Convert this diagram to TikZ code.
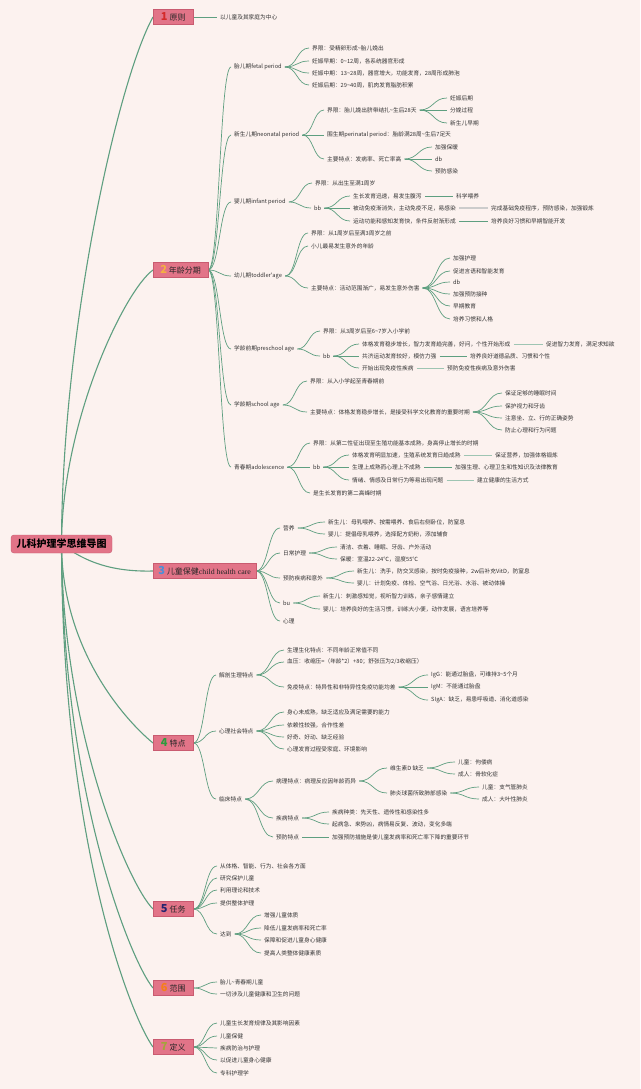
\documentclass[tikz,border=0pt]{standalone}
\usepackage{fontspec}
\setmainfont{Noto Sans CJK SC}[Ligatures=TeXOff]
\newfontfamily\latserif{Liberation Serif}
\usetikzlibrary{calc}
\pgfdeclarelayer{back}
\pgfdeclarelayer{links}
\pgfsetlayers{back,links,main}
\definecolor{bgc}{HTML}{FCF2EF}
\definecolor{linkc}{HTML}{5E9F80}
\definecolor{boxc}{HTML}{E27488}
\definecolor{boxd}{HTML}{C95B70}
\definecolor{txtc}{HTML}{333333}
\definecolor{n1c}{HTML}{D42A2A}
\definecolor{n2c}{HTML}{F5B041}
\definecolor{n3c}{HTML}{4A90D9}
\definecolor{n4c}{HTML}{2E9B3E}
\definecolor{n5c}{HTML}{24246E}
\definecolor{n6c}{HTML}{F57F17}
\definecolor{n7c}{HTML}{A3A53A}
\newcommand\tld{\textasciitilde}
\tikzset{
 leaf/.style={anchor=west, inner xsep=3pt, inner ysep=1pt, font=\fontsize{5.7}{6.5}\selectfont, text=txtc},
 mainbox/.style={anchor=west, fill=boxc, draw=boxd, line width=0.5pt, minimum height=15pt, minimum width=40pt, inner xsep=7pt, inner ysep=0pt, font=\fontsize{8}{8}\selectfont, text=black!85},
 rootbox/.style={fill=boxc, draw=boxd, rounded corners=3pt, minimum width=101pt, minimum height=18pt, font=\fontsize{10}{10}\selectfont\bfseries},
 link/.style={draw=linkc, line width=0.7pt},
 rlink/.style={draw=linkc, line width=1.1pt},
 glink/.style={draw=gray!40, line width=1.4pt},
 llink/.style={draw=linkc!60, line width=1pt},
}
\newcommand\tx[4]{\node[leaf] (#1) at ({#2-3},#3) {#4};}
\newcommand\cn[3][link]{\draw[#1] let \p1=(#2.east), \p2=(#3.west) in (\p1) .. controls ({(\x1+\x2)/2},\y1) and ({(\x1+\x2)/2},\y2) .. (\p2);}
\newcommand\bnum[2]{{\fontsize{11}{11}\selectfont\bfseries\color{#1}#2}\hspace{2pt}}
\begin{document}
\begin{tikzpicture}[x=1pt,y=-1pt]
\begin{pgfonlayer}{back}
\fill[bgc] (0,0) rectangle (640,1089);
\end{pgfonlayer}
\path[use as bounding box] (0,0) rectangle (640,1089);

\node[rootbox] (root) at (61.5,544) {儿科护理学思维导图};

% ---------- 1
\node[mainbox] (m1) at (153,17) {\bnum{n1c}{1}原则};
\tx{p1a}{220}{17}{以儿童及其家庭为中心}

% ---------- 2
\node[mainbox] (m2) at (153,270) {\bnum{n2c}{2}年龄分期};
\tx{f}{234}{67}{胎儿期fetal period}
\tx{f1}{312}{48}{界限：受精卵形成\tld 胎儿娩出}
\tx{f2}{312}{61}{妊娠早期：0\tld 12周，各系统器官形成}
\tx{f3}{312}{73}{妊娠中期：13\tld 28周，器官增大，功能发育，28周形成肺泡}
\tx{f4}{312}{85}{妊娠后期：29\tld 40周，肌肉发育脂肪积累}
\tx{n}{234}{135}{新生儿期neonatal period}
\tx{n1}{327}{110}{界限：胎儿娩出脐带结扎\tld 生后28天}
\tx{n1a}{450}{98}{妊娠后期}
\tx{n1b}{450}{110}{分娩过程}
\tx{n1c}{450}{123}{新生儿早期}
\tx{n2}{327}{135}{围生期perinatal period：胎龄满28周\tld 生后7足天}
\tx{n3}{327}{159}{主要特点：发病率、死亡率高}
\tx{n3a}{435}{147}{加强保暖}
\tx{n3b}{435}{159}{db}
\tx{n3c}{435}{171}{预防感染}
\tx{i}{234}{202}{婴儿期infant period}
\tx{i1}{315}{183}{界限：从出生至满1周岁}
\tx{i2}{314}{208}{bb}
\tx{i2a}{353}{196}{生长发育迅速，易发生腹泻}
\tx{i2a1}{456}{196}{科学喂养}
\tx{i2b}{353}{208}{被动免疫渐消失，主动免疫不足，易感染}
\tx{i2b1}{491}{208}{完成基础免疫程序，预防感染，加强锻炼}
\tx{i2c}{353}{221}{运动功能和感知发育快，条件反射渐形成}
\tx{i2c1}{491}{221}{培养良好习惯和早期智能开发}
\tx{t}{234}{276}{幼儿期toddler'age}
\tx{t1}{311}{233}{界限：从1周岁后至满3周岁之前}
\tx{t2}{311}{246}{小儿最易发生意外的年龄}
\tx{t3}{311}{288}{主要特点：活动范围渐广，易发生意外伤害}
\tx{t3a}{453}{258}{加强护理}
\tx{t3b}{453}{271}{促进言语和智能发育}
\tx{t3c}{453}{282}{db}
\tx{t3d}{453}{294}{加强预防接种}
\tx{t3e}{453}{306}{早期教育}
\tx{t3f}{453}{319}{培养习惯和人格}
\tx{ps}{234}{349}{学龄前期preschool age}
\tx{ps1}{323}{331}{界限：从3周岁后至6\tld 7岁入小学前}
\tx{ps2}{323}{356}{bb}
\tx{ps2a}{362}{344}{体格发育稳步增长，智力发育趋完善，好问，个性开始形成}
\tx{ps2a1}{546}{344}{促进智力发育，满足求知欲}
\tx{ps2b}{362}{356}{共济运动发育较好，模仿力强}
\tx{ps2b1}{470}{356}{培养良好道德品质、习惯和个性}
\tx{ps2c}{362}{368}{开始出现免疫性疾病}
\tx{ps2c1}{447}{368}{预防免疫性疾病及意外伤害}
\tx{s}{234}{405}{学龄期school age}
\tx{s1}{310}{381}{界限：从入小学起至青春期前}
\tx{s2}{310}{412}{主要特点：体格发育稳步增长，是接受科学文化教育的重要时期}
\tx{s2a}{505}{393}{保证足够的睡眠时间}
\tx{s2b}{505}{406}{保护视力和牙齿}
\tx{s2c}{505}{418}{注意坐、立、行的正确姿势}
\tx{s2d}{505}{430}{防止心理和行为问题}
\tx{a}{234}{467}{青春期adolescence}
\tx{a1}{313}{443}{界限：从第二性征出现至生殖功能基本成熟，身高停止增长的时期}
\tx{a2}{313}{467}{bb}
\tx{a2a}{352}{455}{体格发育明显加速，生殖系统发育日趋成熟}
\tx{a2a1}{495}{455}{保证营养，加强体格锻炼}
\tx{a2b}{352}{467}{生理上成熟而心理上不成熟}
\tx{a2b1}{455}{467}{加强生理、心理卫生和性知识及法律教育}
\tx{a2c}{352}{480}{情绪、情感及日常行为等易出现问题}
\tx{a2c1}{477}{480}{建立健康的生活方式}
\tx{a3}{313}{493}{是生长发育的第二高峰时期}

% ---------- 3
\node[mainbox,inner xsep=5pt] (m3) at (153,571) {\bnum{n3c}{3}儿童保健\resizebox{52pt}{\height}{\latserif\fontsize{7.5}{7.5}\selectfont child health care}};
\tx{c1}{283}{528}{营养}
\tx{c1a}{328}{522}{新生儿：母乳喂养、按需喂养、食后右侧卧位，防窒息}
\tx{c1b}{328}{534}{婴儿：提倡母乳喂养，选择配方奶粉，添加辅食}
\tx{c2}{283}{553}{日常护理}
\tx{c2a}{340}{547}{清洁、衣着、睡眠、牙齿、户外活动}
\tx{c2b}{340}{559}{保暖：室温22-24℃，湿度55℃}
\tx{c3}{283}{578}{预防疾病和意外}
\tx{c3a}{357}{571}{新生儿：洗手，防交叉感染，按时免疫接种，2w后补充VitD，防窒息}
\tx{c3b}{357}{583}{婴儿：计划免疫、体检、空气浴、日光浴、水浴、被动体操}
\tx{c4}{283}{603}{bu}
\tx{c4a}{323}{596}{新生儿：刺激感知觉，视听智力训练，亲子感情建立}
\tx{c4b}{323}{609}{婴儿：培养良好的生活习惯，训练大小便，动作发展，语言培养等}
\tx{c5}{283}{621}{心理}

% ---------- 4
\node[mainbox] (m4) at (153,743) {\bnum{n4c}{4}特点};
\tx{d1}{219}{675}{解剖生理特点}
\tx{d1a}{287}{650}{生理生化特点：不同年龄正常值不同}
\tx{d1b}{287}{662}{血压：收缩压=（年龄*2）+80；舒张压为2/3收缩压）}
\tx{d1c}{287}{687}{免疫特点：特异性和非特异性免疫功能均差}
\tx{d1c1}{431}{675}{IgG：能通过胎盘，可维持3\tld 5个月}
\tx{d1c2}{431}{687}{IgM：不能通过胎盘}
\tx{d1c3}{431}{700}{SIgA：缺乏，易患呼吸道、消化道感染}
\tx{d2}{219}{731}{心理社会特点}
\tx{d2a}{287}{712}{身心未成熟，缺乏适应及满足需要的能力}
\tx{d2b}{287}{725}{依赖性较强，合作性差}
\tx{d2c}{287}{737}{好奇、好动、缺乏经验}
\tx{d2d}{287}{749}{心理发育过程受家庭、环境影响}
\tx{d3}{219}{799}{临床特点}
\tx{d3a}{276}{781}{病理特点：病理反应因年龄而异}
\tx{d3a1}{390}{768}{维生素D 缺乏}
\tx{d3a1a}{458}{762}{儿童：佝偻病}
\tx{d3a1b}{458}{774}{成人：骨软化症}
\tx{d3a2}{390}{793}{肺炎球菌所致肺部感染}
\tx{d3a2a}{482}{787}{儿童：支气管肺炎}
\tx{d3a2b}{482}{799}{成人：大叶性肺炎}
\tx{d3b}{276}{818}{疾病特点}
\tx{d3b1}{332}{812}{疾病种类：先天性、遗传性和感染性多}
\tx{d3b2}{332}{824}{起病急、来势凶，病情易反复、波动，变化多端}
\tx{d3c}{276}{837}{预防特点}
\tx{d3c1}{332}{837}{加强预防措施是使儿童发病率和死亡率下降的重要环节}

% ---------- 5
\node[mainbox] (m5) at (153,909) {\bnum{n5c}{5}任务};
\tx{r1}{220}{866}{从体格、智能、行为、社会各方面}
\tx{r2}{220}{878}{研究保护儿童}
\tx{r3}{220}{890}{利用理论和技术}
\tx{r4}{220}{903}{提供整体护理}
\tx{r5}{220}{934}{达到}
\tx{r5a}{264}{915}{增强儿童体质}
\tx{r5b}{264}{928}{降低儿童发病率和死亡率}
\tx{r5c}{264}{940}{保障和促进儿童身心健康}
\tx{r5d}{264}{953}{提高人类整体健康素质}

% ---------- 6
\node[mainbox] (m6) at (153,988) {\bnum{n6c}{6}范围};
\tx{g1}{220}{982}{胎儿\tld 青春期儿童}
\tx{g2}{220}{994}{一切涉及儿童健康和卫生的问题}

% ---------- 7
\node[mainbox] (m7) at (153,1047) {\bnum{n7c}{7}定义};
\tx{e1}{220}{1023}{儿童生长发育规律及其影响因素}
\tx{e2}{220}{1036}{儿童保健}
\tx{e3}{220}{1048}{疾病防治与护理}
\tx{e4}{220}{1060}{以促进儿童身心健康}
\tx{e5}{220}{1073}{专科护理学}

\begin{pgfonlayer}{links}
\draw[rlink] (root.center) .. controls (62,330) and (118,80) .. (m1.west);
\draw[rlink] (root.center) .. controls (62,420) and (125,290) .. (m2.west);
\draw[rlink] (root.center) .. controls (85,562) and (112,572) .. (m3.west);
\draw[rlink] (root.center) .. controls (62,650) and (125,720) .. (m4.west);
\draw[rlink] (root.center) .. controls (62,730) and (128,884) .. (m5.west);
\draw[rlink] (root.center) .. controls (62,790) and (130,960) .. (m6.west);
\draw[rlink] (root.center) .. controls (62,840) and (130,1015) .. (m7.west);

\cn{m1}{p1a}
% 2
\foreach \c in {f,n,i,t,ps,s,a} {\cn{m2}{\c}}
\foreach \c in {f1,f2,f3,f4} {\cn{f}{\c}}
\foreach \c in {n1,n2,n3} {\cn{n}{\c}}
\foreach \c in {n1a,n1b,n1c} {\cn{n1}{\c}}
\foreach \c in {n3a,n3b,n3c} {\cn{n3}{\c}}
\foreach \c in {i1,i2} {\cn{i}{\c}}
\foreach \c in {i2a,i2b,i2c} {\cn{i2}{\c}}
\cn{i2a}{i2a1}
\cn[glink]{i2b}{i2b1}
\cn{i2c}{i2c1}
\foreach \c in {t1,t2,t3} {\cn{t}{\c}}
\foreach \c in {t3a,t3b,t3c,t3d,t3e,t3f} {\cn{t3}{\c}}
\foreach \c in {ps1,ps2} {\cn{ps}{\c}}
\foreach \c in {ps2a,ps2b,ps2c} {\cn{ps2}{\c}}
\cn[llink]{ps2a}{ps2a1}
\cn{ps2b}{ps2b1}
\cn[llink]{ps2c}{ps2c1}
\foreach \c in {s1,s2} {\cn{s}{\c}}
\foreach \c in {s2a,s2b,s2c,s2d} {\cn{s2}{\c}}
\foreach \c in {a1,a2,a3} {\cn{a}{\c}}
\foreach \c in {a2a,a2b,a2c} {\cn{a2}{\c}}
\cn[llink]{a2a}{a2a1}
\cn{a2b}{a2b1}
\cn[llink]{a2c}{a2c1}
% 3
\foreach \c in {c1,c2,c3,c4,c5} {\cn{m3}{\c}}
\foreach \c in {c1a,c1b} {\cn{c1}{\c}}
\foreach \c in {c2a,c2b} {\cn{c2}{\c}}
\foreach \c in {c3a,c3b} {\cn{c3}{\c}}
\foreach \c in {c4a,c4b} {\cn{c4}{\c}}
% 4
\foreach \c in {d1,d2,d3} {\cn{m4}{\c}}
\foreach \c in {d1a,d1b,d1c} {\cn{d1}{\c}}
\foreach \c in {d1c1,d1c2,d1c3} {\cn{d1c}{\c}}
\foreach \c in {d2a,d2b,d2c,d2d} {\cn{d2}{\c}}
\foreach \c in {d3a,d3b,d3c} {\cn{d3}{\c}}
\foreach \c in {d3a1,d3a2} {\cn{d3a}{\c}}
\foreach \c in {d3a1a,d3a1b} {\cn{d3a1}{\c}}
\foreach \c in {d3a2a,d3a2b} {\cn{d3a2}{\c}}
\foreach \c in {d3b1,d3b2} {\cn{d3b}{\c}}
\cn{d3c}{d3c1}
% 5
\foreach \c in {r1,r2,r3,r4,r5} {\cn{m5}{\c}}
\foreach \c in {r5a,r5b,r5c,r5d} {\cn{r5}{\c}}
% 6, 7
\foreach \c in {g1,g2} {\cn{m6}{\c}}
\foreach \c in {e1,e2,e3,e4,e5} {\cn{m7}{\c}}
\end{pgfonlayer}
\end{tikzpicture}
\end{document}
